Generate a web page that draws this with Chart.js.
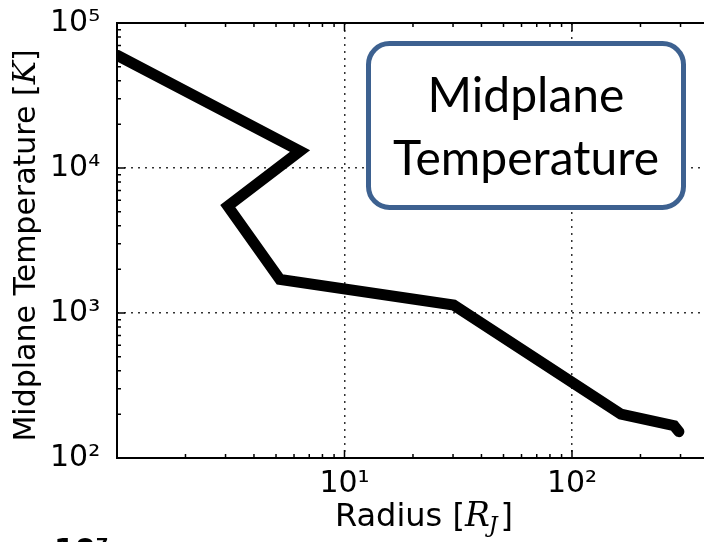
<!DOCTYPE html>
<html>
<head>
<meta charset="utf-8">
<script src="https://cdn.jsdelivr.net/npm/chart.js@4/dist/chart.umd.min.js"></script>
<style>
html,body{margin:0;padding:0;overflow:hidden;background:#fff;}
#wrap{position:relative;width:704px;height:542px;overflow:hidden;}
#c{display:block;position:absolute;left:0;top:0;}
</style>
</head>
<body>
<div id="wrap"><canvas id="c" width="740" height="542"></canvas></div>
<script>
// ---- data ----
const radiusRJ = [1.0, 6.37, 3.07, 5.2, 30.2, 164, 281, 295];
const midplaneTempK = [60000, 13100, 5460, 1705, 1133, 201, 167, 152];
const xTickValues = [10, 100];
const yTickValues = [100, 1000, 10000, 100000];
const xRange = [1, 500];
const yRange = [100, 100000];
const boxLines = ['Midplane', 'Temperature'];
const xTitle = ['Radius [', 'R', 'J', ']'];
const yTitle = ['Midplane Temperature [', 'K', ']'];
const strayLabel = '10⁷';

const SUP = {'0':'⁰','1':'¹','2':'²','3':'³','4':'⁴','5':'⁵','6':'⁶','7':'⁷','8':'⁸','9':'⁹','-':'⁻'};
function powLabel(v){
  const e = Math.round(Math.log10(v));
  return '10' + String(e).split('').map(c => SUP[c]).join('');
}

const points = radiusRJ.map((r, i) => ({x: r, y: midplaneTempK[i]}));

const decor = {
  id: 'decor',
  afterDatasetsDraw(chart) {
    const ctx = chart.ctx, a = chart.chartArea;
    const xs = chart.scales.x, ys = chart.scales.y;
    ctx.save();
    // frame
    ctx.strokeStyle = '#000';
    ctx.lineWidth = 2;
    ctx.strokeRect(a.left, a.top, a.right - a.left, a.bottom - a.top);
    // inward ticks (matplotlib style)
    ctx.lineWidth = 1.5;
    ctx.beginPath();
    for (let d = 1; d <= 1000; d *= 10) {
      for (let s = 1; s <= 9; s++) {
        const v = d * s;
        if (v <= xRange[0] || v >= xRange[1]) continue;
        const px = xs.getPixelForValue(v);
        const len = s === 1 ? 8 : 4;
        ctx.moveTo(px, a.bottom); ctx.lineTo(px, a.bottom - len);
        ctx.moveTo(px, a.top); ctx.lineTo(px, a.top + len);
      }
    }
    for (let d = 100; d <= 100000; d *= 10) {
      for (let s = 1; s <= 9; s++) {
        const v = d * s;
        if (v <= yRange[0] || v >= yRange[1]) continue;
        const py = ys.getPixelForValue(v);
        const len = s === 1 ? 8 : 4;
        ctx.moveTo(a.left, py); ctx.lineTo(a.left + len, py);
        ctx.moveTo(a.right, py); ctx.lineTo(a.right - len, py);
      }
    }
    ctx.stroke();

    // x axis title with italic R and subscript J
    ctx.fillStyle = '#000';
    ctx.textBaseline = 'alphabetic';
    const fMain = '32px "DejaVu Sans"';
    const fIt = 'italic 33px "DejaVu Serif"';
    const fSub = 'italic 22px "DejaVu Serif"';
    ctx.font = fMain; const w0 = ctx.measureText(xTitle[0]).width;
    ctx.font = fIt; const w1 = ctx.measureText(xTitle[1]).width;
    ctx.font = fSub; const w2 = ctx.measureText(xTitle[2]).width;
    ctx.font = fMain; const w3 = ctx.measureText(xTitle[3]).width;
    const total = w0 + w1 + w2 + w3 + 2;
    let x = (a.left + a.right) / 2 - total / 2;
    const by = 526;
    ctx.font = fMain; ctx.fillText(xTitle[0], x, by); x += w0;
    ctx.font = fIt; ctx.fillText(xTitle[1], x, by); x += w1;
    ctx.font = fSub; ctx.fillText(xTitle[2], x - 1, by + 6); x += w2 + 2;
    ctx.font = fMain; ctx.fillText(xTitle[3], x, by);

    // y axis title (rotated)
    ctx.save();
    ctx.translate(35, (a.top + a.bottom) / 2 + 5);
    ctx.rotate(-Math.PI / 2);
    const fMainY = '30px "DejaVu Sans"';
    const fItY = 'italic 31px "DejaVu Serif"';
    ctx.font = fMainY; const v0 = ctx.measureText(yTitle[0]).width;
    ctx.font = fItY; const v1 = ctx.measureText(yTitle[1]).width;
    ctx.font = fMainY; const v2 = ctx.measureText(yTitle[2]).width;
    let t = -(v0 + v1 + v2) / 2;
    ctx.font = fMainY; ctx.fillText(yTitle[0], t, 0); t += v0;
    ctx.font = fItY; ctx.fillText(yTitle[1], t, 0); t += v1;
    ctx.font = fMainY; ctx.fillText(yTitle[2], t, 0);
    ctx.restore();

    // annotation box
    const bx = 368.5, byy = 43.5, bw = 315, bh = 164, r = 21;
    ctx.beginPath();
    ctx.moveTo(bx + r, byy);
    ctx.arcTo(bx + bw, byy, bx + bw, byy + bh, r);
    ctx.arcTo(bx + bw, byy + bh, bx, byy + bh, r);
    ctx.arcTo(bx, byy + bh, bx, byy, r);
    ctx.arcTo(bx, byy, bx + bw, byy, r);
    ctx.closePath();
    ctx.fillStyle = '#fff';
    ctx.fill();
    ctx.lineWidth = 5;
    ctx.strokeStyle = '#3d6190';
    ctx.stroke();
    ctx.fillStyle = '#000';
    ctx.font = '48px Lato';
    ctx.textAlign = 'center';
    ctx.fillText(boxLines[0], bx + bw / 2, 112);
    ctx.fillText(boxLines[1], bx + bw / 2, 175);

    // partially visible label of the panel below
    ctx.textAlign = 'left';
    ctx.font = 'bold 30px "DejaVu Sans"';
    ctx.fillText(strayLabel, 54, 560);
    ctx.restore();
  }
};

new Chart(document.getElementById('c'), {
  type: 'line',
  data: {
    datasets: [{
      data: points,
      borderColor: '#000',
      borderWidth: 11,
      borderCapStyle: 'round',
      borderJoinStyle: 'miter',
      pointRadius: 0,
      fill: false,
      tension: 0,
      clip: 0
    }]
  },
  options: {
    responsive: false,
    animation: false,
    layout: {padding: {left: 50, top: 23, right: 9, bottom: 0}},
    plugins: {legend: {display: false}, tooltip: {enabled: false}},
    scales: {
      x: {
        type: 'logarithmic',
        min: xRange[0], max: xRange[1],
        afterBuildTicks: s => { s.ticks = xTickValues.map(v => ({value: v})); },
        afterFit: s => { s.height = 84; },
        ticks: {
          autoSkip: false, maxRotation: 0, padding: 8,
          color: '#000', font: {family: 'DejaVu Sans', size: 30},
          callback: v => powLabel(v)
        },
        grid: {color: '#333', lineWidth: 1.5, drawTicks: false},
        border: {display: false, dash: [2, 5]}
      },
      y: {
        type: 'logarithmic',
        min: yRange[0], max: yRange[1],
        afterBuildTicks: s => { s.ticks = yTickValues.map(v => ({value: v})); },
        afterFit: s => { s.width = 67; },
        ticks: {
          autoSkip: false, padding: 0, crossAlign: 'far',
          color: '#000', font: {family: 'DejaVu Sans', size: 30},
          callback: v => powLabel(v)
        },
        grid: {color: '#333', lineWidth: 1.5, drawTicks: false},
        border: {display: false, dash: [2, 5]}
      }
    }
  },
  plugins: [decor]
});
</script>
</body>
</html>
